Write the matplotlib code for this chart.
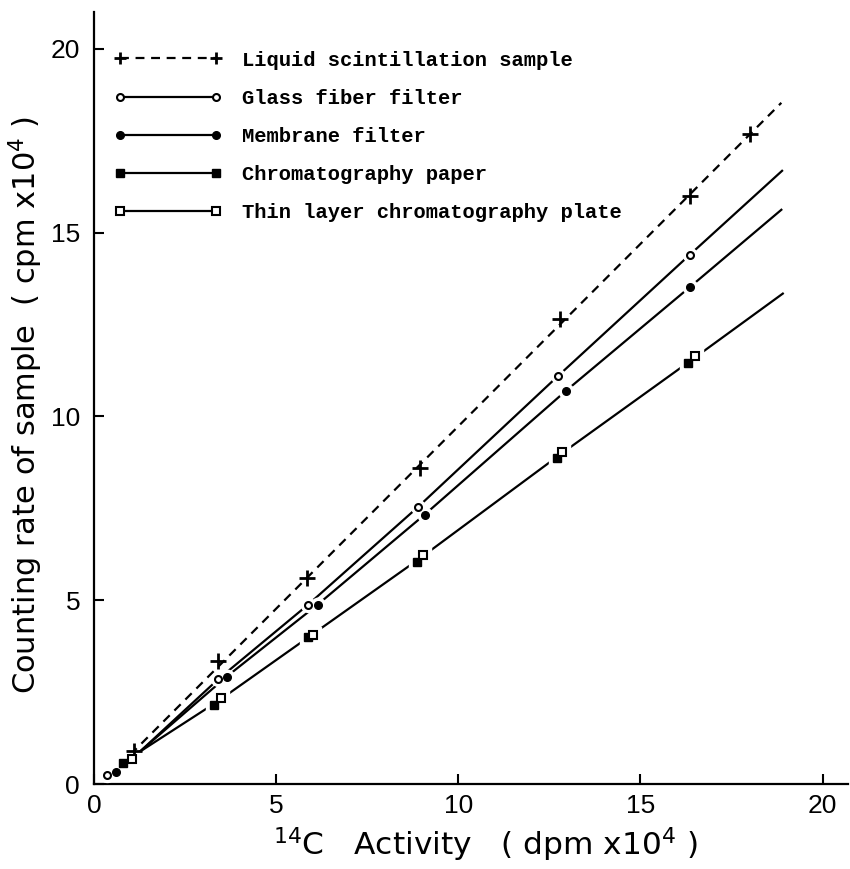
import numpy as np
import matplotlib.pyplot as plt
from matplotlib.lines import Line2D

plt.rcParams['font.family'] = ['Liberation Sans', 'DejaVu Sans']
plt.rcParams['mathtext.fontset'] = 'custom'
plt.rcParams['mathtext.rm'] = 'DejaVu Sans'
plt.rcParams['mathtext.it'] = 'DejaVu Sans'

# measured points, x = 14C activity (dpm x10^4), y = counting rate (cpm x10^4)
liq_x = [1.11, 3.41, 5.84, 8.94, 12.78, 16.35, 18.02]
liq_y = [0.91, 3.35, 5.60, 8.60, 12.64, 15.99, 17.68]
glass_x = [0.36, 3.41, 5.88, 8.90, 12.74, 16.35]
glass_y = [0.25, 2.85, 4.88, 7.54, 11.10, 14.39]
memb_x = [0.60, 3.64, 6.14, 9.08, 12.95, 16.35]
memb_y = [0.34, 2.92, 4.88, 7.33, 10.69, 13.51]
paper_x = [0.79, 3.29, 5.88, 8.87, 12.71, 16.30]
paper_y = [0.56, 2.15, 4.00, 6.05, 8.87, 11.44]
tlc_x = [1.03, 3.50, 6.00, 9.03, 12.86, 16.51]
tlc_y = [0.67, 2.35, 4.06, 6.24, 9.03, 11.63]

# drawn-in calibration lines
liq_line_x = [1.0, 18.87]
liq_line_y = [0.80, 18.53]
glass_line_x = [1.26, 3.41, 5.88, 8.90, 12.74, 16.35, 18.89]
glass_line_y = [0.88, 2.85, 4.88, 7.54, 11.10, 14.39, 16.68]
memb_line_x = [1.26, 3.64, 6.14, 9.08, 12.95, 16.35, 18.87]
memb_line_y = [0.88, 2.92, 4.88, 7.33, 10.69, 13.51, 15.62]
paper_line_x = [1.26, 3.40, 5.94, 8.95, 12.78, 16.40, 18.91]
paper_line_y = [0.88, 2.25, 4.03, 6.14, 8.95, 11.53, 13.34]

labels = ['Liquid scintillation sample', 'Glass fiber filter', 'Membrane filter',
          'Chromatography paper', 'Thin layer chromatography plate']

fig = plt.figure(figsize=(8.5, 8.69), dpi=100)
ax = fig.add_axes([94/850, 1-784/869, (848-94)/850, (784-12)/869])

lw = 1.6
ax.plot(liq_line_x, liq_line_y, color='k', lw=lw, ls=(0, (4, 3)), zorder=2)
ax.plot(glass_line_x, glass_line_y, color='k', lw=lw, zorder=2)
ax.plot(memb_line_x, memb_line_y, color='k', lw=lw, zorder=2)
ax.plot(paper_line_x, paper_line_y, color='k', lw=lw, zorder=2)

series = [
    (liq_x, liq_y, dict(marker='+', ms=11, mew=2.0, color='k')),
    (glass_x, glass_y, dict(marker='o', ms=5, mew=1.5, mfc='white', color='k')),
    (memb_x, memb_y, dict(marker='o', ms=5.5, mew=1, color='k')),
    (paper_x, paper_y, dict(marker='s', ms=6, mew=1, color='k')),
    (tlc_x, tlc_y, dict(marker='s', ms=6, mew=1.5, mfc='white', color='k')),
]
for sx, sy, st in series:
    if st['marker'] != '+':
        ax.plot(sx, sy, ls='none', marker=st['marker'], ms=st['ms'] + 5,
                color='white', zorder=3)
    ax.plot(sx, sy, ls='none', zorder=4, **st)

handles = []
for i, (sx, sy, st) in enumerate(series):
    hs = {k: v for k, v in st.items() if k != 'color'}
    if i == 0:
        hs['ms'] = 9
    handles.append(Line2D([], [], color='k', lw=lw,
                          ls=(0, (4, 3)) if i == 0 else '-', **hs))
leg = ax.legend(handles, labels, loc='upper left', bbox_to_anchor=(0.026, 0.950),
                frameon=False, numpoints=2, handlelength=5.3, handletextpad=0.95,
                labelspacing=0.93, borderpad=0, borderaxespad=0,
                prop={'family': 'Liberation Mono', 'weight': 'bold', 'size': 14.8})

ax.set_xlim(0, 20.7)
ax.set_ylim(0, 21.0)
ax.set_xticks([0, 5, 10, 15, 20])
ax.set_yticks([0, 5, 10, 15, 20])
ax.spines['top'].set_visible(False)
ax.spines['right'].set_visible(False)
for s in ['left', 'bottom']:
    ax.spines[s].set_linewidth(1.6)
ax.tick_params(direction='in', length=7, width=1.5, labelsize=19)
ax.tick_params(axis='x', pad=7)
ax.tick_params(axis='y', pad=10)

ax.set_xlabel('$^{14}$C   Activity   ( dpm x10$^4$ )', fontsize=22.5, family='DejaVu Sans')
ax.set_ylabel('Counting rate of sample  ( cpm x10$^4$ )', fontsize=22, family='DejaVu Sans')
ax.xaxis.set_label_coords(0.519, -0.054)
ax.yaxis.set_label_coords(-0.065, 0.491)

fig.savefig('out.png', dpi=100)
